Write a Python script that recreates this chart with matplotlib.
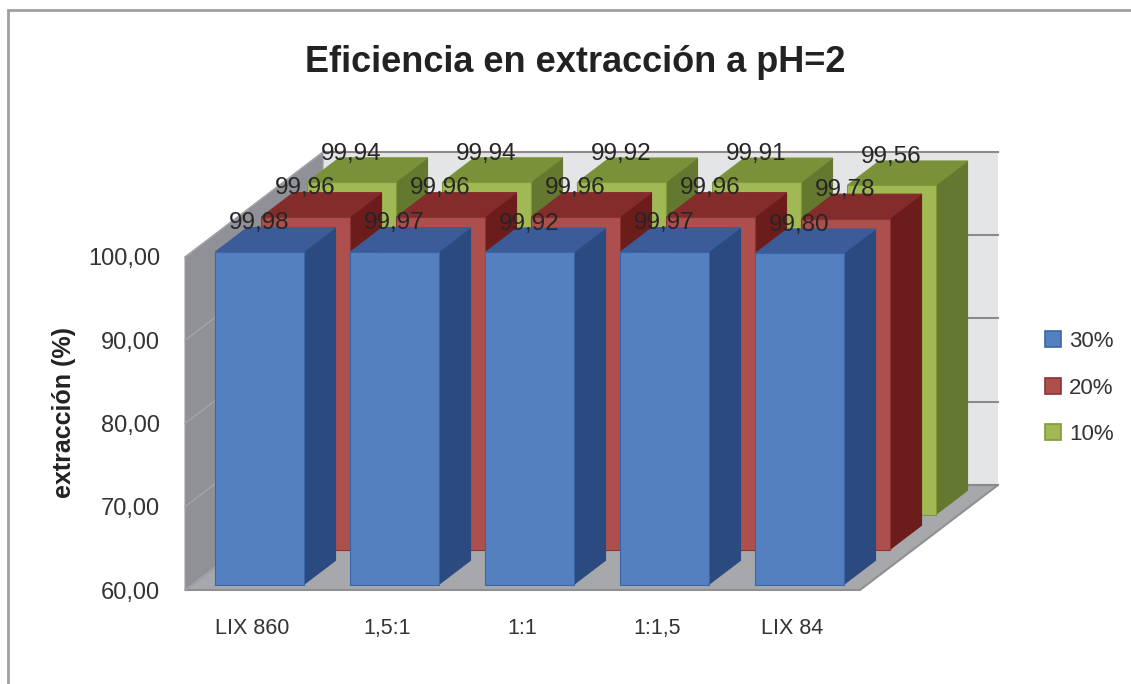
import matplotlib
matplotlib.use('Agg')
import matplotlib.pyplot as plt
from matplotlib.patches import Polygon, Patch, Rectangle

plt.rcParams['font.family'] = ['Liberation Sans', 'DejaVu Sans']

categorias = ['LIX 860', '1,5:1', '1:1', '1:1,5', 'LIX 84']
series = ['30%', '20%', '10%']
val_30 = [99.98, 99.97, 99.92, 99.97, 99.80]
val_20 = [99.96, 99.96, 99.96, 99.96, 99.78]
val_10 = [99.94, 99.94, 99.92, 99.91, 99.56]
valores = [val_30, val_20, val_10]
y_ticks = [60, 70, 80, 90, 100]

# colores: cara frontal, tapa, lateral, borde
colores = [
    ('#5580c0', '#3b5c98', '#2a4a80', '#3a65a8'),
    ('#ad4f4d', '#842c2b', '#6c1c1a', '#8c3432'),
    ('#a0b955', '#7a9139', '#64782f', '#7f9a3a'),
]

YMIN, YMAX = 60, 100
# desplazamiento en profundidad por cada serie (unidades de datos)
DX = 46 / 135
DY = 35 / 8.325
ANCHO = 0.652
D_INI, D_FIN = 0.152, 0.848
NS = len(series)


def proj(x, v, d):
    return (x + d * DX, v + d * DY)


def poly(ax, pts, fc, ec, z, lw=0.8):
    ax.add_patch(Polygon([proj(*p) for p in pts], closed=True, facecolor=fc,
                         edgecolor=ec, linewidth=lw, zorder=z, clip_on=False))


fig = plt.figure(figsize=(11.31, 6.84), dpi=100)
W, H = 1131, 684
ax = fig.add_axes([185 / W, (H - 590) / H, 675 / W, 333 / H])
ax.set_xlim(-0.5, len(categorias) - 0.5)
ax.set_ylim(YMIN, YMAX)
for s in ax.spines.values():
    s.set_visible(False)
ax.patch.set_visible(False)

x0, x1 = -0.5, len(categorias) - 0.5
# paredes y suelo
poly(ax, [(x0, YMIN, NS), (x1, YMIN, NS), (x1, YMAX, NS), (x0, YMAX, NS)],
     '#e4e5e7', 'none', 0.5)
poly(ax, [(x0, YMIN, 0), (x0, YMIN, NS), (x0, YMAX, NS), (x0, YMAX, 0)],
     '#8f9197', '#9c9ea4', 0.5)
poly(ax, [(x0, YMIN, 0), (x1, YMIN, 0), (x1, YMIN, NS), (x0, YMIN, NS)],
     '#a6a8ac', '#8e9094', 0.5, lw=1.5)

# líneas de división
for t in y_ticks:
    xa, ya = proj(x0, t, NS)
    xb, yb = proj(x1, t, NS)
    ax.plot([xa, xb], [ya, yb], color='#8a8a8a', lw=1.5, zorder=0.6, clip_on=False)
    xc, yc = proj(x0, t, 0)
    ax.plot([xc, xa], [yc, ya], color='#a3a5aa', lw=1.0, zorder=0.6, clip_on=False)

# barras, de atrás hacia delante
for k in reversed(range(NS)):
    fc, tc, sc, ec = colores[k]
    d0, d1 = k + D_INI, k + D_FIN
    for i, v in enumerate(valores[k]):
        a, b = i - ANCHO / 2, i + ANCHO / 2
        z = 2 + (NS - k)
        poly(ax, [(b, YMIN, d0), (b, YMIN, d1), (b, v, d1), (b, v, d0)], sc, sc, z)
        poly(ax, [(a, v, d0), (b, v, d0), (b, v, d1), (a, v, d1)], tc, tc, z)
        poly(ax, [(a, YMIN, d0), (b, YMIN, d0), (b, v, d0), (a, v, d0)], fc, ec, z)

# etiquetas de valor
for k in range(NS):
    for i, v in enumerate(valores[k]):
        xl, _ = proj(i, v, k + D_INI)
        _, yl = proj(i, v, k + D_FIN)
        ax.annotate(f'{v:.2f}'.replace('.', ','), (xl, yl), xytext=(0, 3),
                    textcoords='offset points', ha='center', va='center',
                    fontsize=17.5, color='#262626', zorder=10, annotation_clip=False)

ax.set_xticks(range(len(categorias)))
ax.set_xticklabels(categorias)
ax.set_yticks(y_ticks)
ax.set_yticklabels([f'{t:.2f}'.replace('.', ',') for t in y_ticks])
ax.tick_params(axis='y', length=0, pad=18, labelsize=17, labelcolor='#333333')
ax.tick_params(axis='x', length=0, pad=20, labelsize=15.5, labelcolor='#333333')

fig.text(64 / W, 1 - 413 / H, 'extracción (%)', rotation=90, ha='center',
         va='center', fontsize=18, fontweight='bold', color='#222222')
fig.text(575 / W, 1 - 62 / H, 'Eficiencia en extracción a pH=2', ha='center',
         va='center', fontsize=26, fontweight='bold', color='#222222')

handles = [Patch(facecolor=c[0], edgecolor=c[3], linewidth=1.2) for c in colores]
fig.legend(handles, series, loc='center left', bbox_to_anchor=(1045 / W, 1 - 388 / H),
           frameon=False, fontsize=16, handlelength=0.72, handleheight=0.72,
           handletextpad=0.35, labelspacing=1.15, borderpad=0, borderaxespad=0,
           labelcolor='#333333')

fig.add_artist(Rectangle((8 / W, -0.1), 1.2, 1.1 - 10 / H, transform=fig.transFigure,
                         fill=False, edgecolor='#a0a0a0', linewidth=2))

fig.savefig('out.png', dpi=100)
